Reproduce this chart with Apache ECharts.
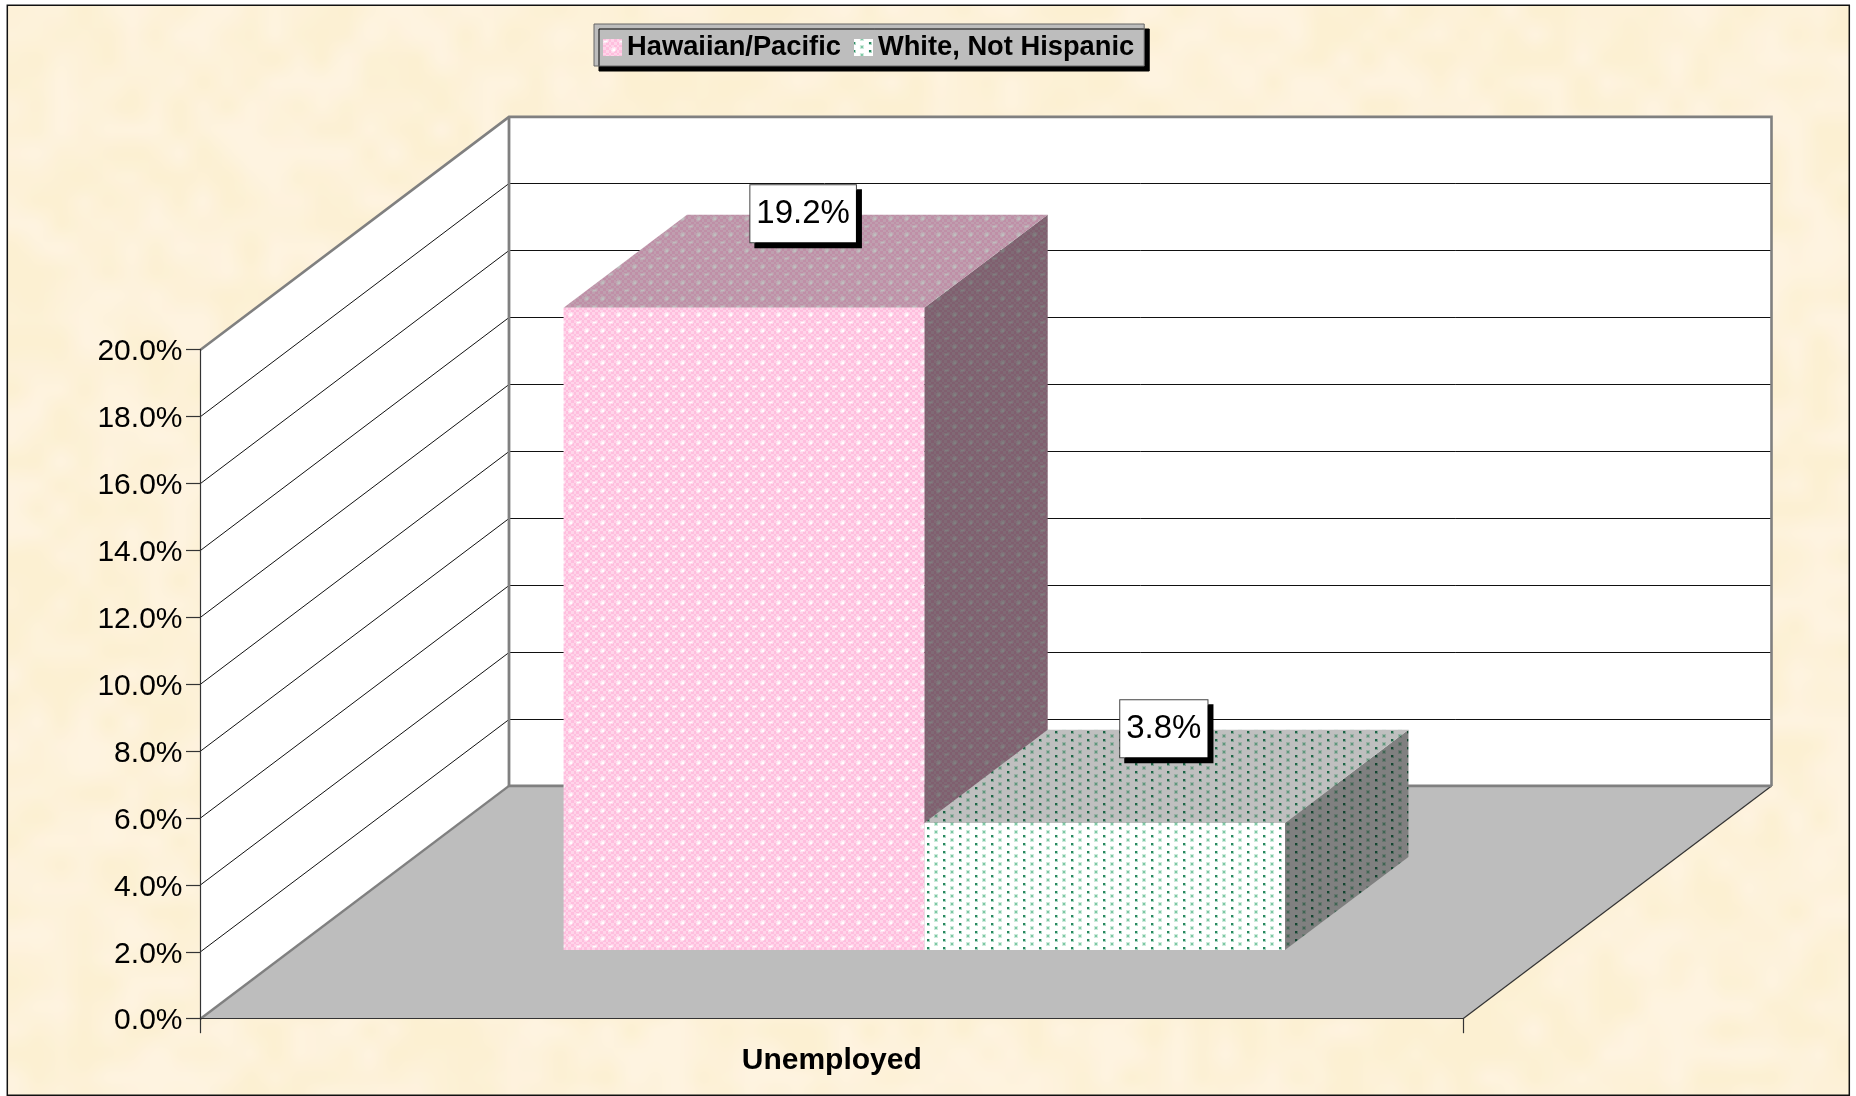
<!DOCTYPE html>
<html>
<head>
<meta charset="utf-8">
<style>html,body{margin:0;padding:0;background:#fff}#chart{width:1856px;height:1096px}</style>
<script src="https://cdn.jsdelivr.net/npm/echarts@6/dist/echarts.min.js"></script>
</head>
<body>
<div id="chart"></div>
<script>
const categories = ['Unemployed'];
const seriesNames = ['Hawaiian/Pacific', 'White, Not Hispanic'];
const hawaiianPacific = [19.2];
const whiteNotHispanic = [3.8];
const axisTicks = [0, 2, 4, 6, 8, 10, 12, 14, 16, 18, 20];

// Oblique projection of the pseudo-3D box
const DEPTH_X = 308.5, DEPTH_Y = 232.8;
const BAR_SLOTS = 3.5, DEPTH_FRONT_X = 0.3, DEPTH_FRONT_Y = 0.295, DEPTH_BAR = 0.4;

function shade(c, s, a) {
  return 'rgba(' + Math.round(c[0]*s) + ',' + Math.round(c[1]*s) + ',' + Math.round(c[2]*s) + ',' + (a === undefined ? 1 : a) + ')';
}
function tileCanvas(w, h) { const t = document.createElement('canvas'); t.width = w; t.height = h; return t; }

function pinkTile(s) {
  const t = tileCanvas(16, 16), g = t.getContext('2d');
  g.fillStyle = shade([255, 200, 228], s); g.fillRect(0, 0, 16, 16);
  const edges = [0, 3, 6, 8, 11, 14, 16];
  for (let i = 0; i < 6; i++) for (let j = 0; j < 6; j++) {
    g.fillStyle = shade((i + j) % 2 ? [255, 212, 233] : [255, 190, 222], s);
    g.fillRect(edges[i], edges[j], edges[i + 1] - edges[i], edges[j + 1] - edges[j]);
  }
  const w = [255, 255, 255];
  g.fillStyle = shade(w, s, 0.45); g.fillRect(8, 9, 5, 3); g.fillRect(9, 8, 3, 5);
  g.fillStyle = shade(w, s, 1); g.fillRect(10, 10, 2, 2);
  g.fillStyle = shade(w, s, 0.45); g.fillRect(0, 1, 5, 3);
  g.fillStyle = shade(w, s, 0.9); g.fillRect(1, 2, 3, 1);
  return t;
}
function greenTile(s) {
  const t = tileCanvas(16, 8), g = t.getContext('2d');
  g.fillStyle = shade([255, 255, 255], s); g.fillRect(0, 0, 16, 8);
  const lightDot = (x, y) => {
    g.fillStyle = shade([205, 235, 220], s); g.fillRect(x - 2, y - 2, 4, 4);
    g.fillStyle = shade([125, 200, 165], s); g.fillRect(x - 1, y - 1, 2, 2);
  };
  lightDot(8, 0); lightDot(8, 8);
  const darkDot = (x, y) => {
    g.fillStyle = shade([170, 215, 195], s); g.fillRect(x - 1, y - 1, 3, 3);
    g.fillStyle = shade([40, 135, 95], s); g.fillRect(x - 1, y - 1, 2, 2);
  };
  darkDot(0, 4); darkDot(16, 4);
  return t;
}
const patterns = [pinkTile, greenTile].map(make => ({
  face: { image: make(1), repeat: 'repeat' },
  top: { image: make(0.75), repeat: 'repeat' },
  side: { image: make(0.5), repeat: 'repeat' }
}));
function swatch(make) {
  const t = tileCanvas(19, 17), g = t.getContext('2d');
  g.fillStyle = g.createPattern(make(1), 'repeat'); g.fillRect(0, 0, 19, 17);
  return 'image://' + t.toDataURL();
}

// Parchment texture (deterministic hash, decorative only)
function parchment() {
  const W = 155, H = 92, small = tileCanvas(W, H), g = small.getContext('2d');
  const hash = (x, y) => { let n = (x * 374761 + y * 668265 + 1013) | 0; n = (n ^ (n >>> 13)) * 1274126177 | 0; return ((n ^ (n >>> 16)) >>> 0) / 4294967295; };
  const sm = t => t * t * (3 - 2 * t);
  const vn = (x, y) => {
    const xi = Math.floor(x), yi = Math.floor(y), u = sm(x - xi), v = sm(y - yi);
    const a = hash(xi, yi), b = hash(xi + 1, yi), c = hash(xi, yi + 1), d = hash(xi + 1, yi + 1);
    return (a + (b - a) * u) * (1 - v) + (c + (d - c) * u) * v;
  };
  const img = g.createImageData(W, H);
  for (let y = 0; y < H; y++) for (let x = 0; x < W; x++) {
    const n = 0.8 * vn(x / 2, y / 2) + 0.2 * vn(x / 7 + 40, y / 7 + 11);
    const t = Math.min(1, Math.max(0, (n - 0.2) / 0.6)), i = (y * W + x) * 4;
    img.data[i] = 252 + 2 * t; img.data[i + 1] = 240 + 3 * t; img.data[i + 2] = 210 + 14 * t; img.data[i + 3] = 255;
  }
  g.putImageData(img, 0, 0);
  const big = tileCanvas(1842, 1090), b = big.getContext('2d');
  b.imageSmoothingEnabled = true; b.imageSmoothingQuality = 'high';
  b.drawImage(small, 0, 0, 1842, 1090);
  return big;
}

const gridDark = '#333333', wallEdge = '#808080';

function renderWalls(params, api) {
  const tick = api.value(1);
  const f = api.coord([0, tick]);
  const band = api.size([1, 0])[0];
  const x0 = f[0] - band / 2, x1 = f[0] + band / 2, y = f[1];
  const lastTick = axisTicks[axisTicks.length - 1];
  const children = [];
  const y0 = api.coord([0, 0])[1], top = api.coord([0, lastTick])[1];
  const bx0 = x0 + DEPTH_X, bx1 = x1 + DEPTH_X, by0 = y0 - DEPTH_Y, bt = top - DEPTH_Y;
  if (params.dataIndex === 0) {
    children.push(
      { type: 'polygon', shape: { points: [[x0, y0], [x0, top], [bx0, bt], [bx0, by0]] }, style: { fill: '#fff' } },
      { type: 'rect', shape: { x: bx0, y: bt, width: bx1 - bx0, height: by0 - bt }, style: { fill: '#fff' } },
      { type: 'polygon', shape: { points: [[x0, y0], [bx0, by0], [bx1, by0], [x1, y0]] }, style: { fill: '#bdbdbd' } },
      { type: 'line', shape: { x1: x1, y1: y0, x2: bx1, y2: by0 }, style: { stroke: gridDark, lineWidth: 1.2 } }
    );
  } else if (tick !== lastTick) {
    const by = Math.floor(y - DEPTH_Y) + 0.5;
    children.push({ type: 'polyline', shape: { points: [[x0, y], [bx0, by], [bx1, by]] }, style: { fill: 'none', stroke: '#111', lineWidth: 1 } });
  } else {
    children.push(
      { type: 'polyline', shape: { points: [[x0, top], [bx0, bt], [bx1, bt], [bx1, by0]] }, style: { fill: 'none', stroke: wallEdge, lineWidth: 2.6 } },
      { type: 'line', shape: { x1: bx0, y1: bt, x2: bx0, y2: by0 }, style: { stroke: wallEdge, lineWidth: 2.8 } },
      { type: 'line', shape: { x1: x0, y1: y0, x2: bx0, y2: by0 }, style: { stroke: wallEdge, lineWidth: 2.4 } },
      { type: 'line', shape: { x1: bx0, y1: by0, x2: bx1, y2: by0 }, style: { stroke: wallEdge, lineWidth: 2.6 } }
    );
  }
  return { type: 'group', children: children };
}

function renderBar(seriesIdx) {
  return function (params, api) {
    const cat = api.value(0), val = api.value(1);
    const base = api.coord([cat, 0]), head = api.coord([cat, val]);
    const band = api.size([1, 0])[0];
    const barW = band / BAR_SLOTS;
    const dxF = DEPTH_X * DEPTH_FRONT_X, dyF = DEPTH_Y * DEPTH_FRONT_Y;
    const dxB = DEPTH_X * DEPTH_BAR, dyB = DEPTH_Y * DEPTH_BAR;
    const xL = base[0] - barW + seriesIdx * barW + dxF, xR = xL + barW;
    const yB = base[1] - dyF, yT = head[1] - dyF;
    const p = patterns[seriesIdx];
    return {
      type: 'group',
      children: [
        { type: 'polygon', shape: { points: [[xR, yB], [xR, yT], [xR + dxB, yT - dyB], [xR + dxB, yB - dyB]] }, style: { fill: p.side } },
        { type: 'polygon', shape: { points: [[xL, yT], [xL + dxB, yT - dyB], [xR + dxB, yT - dyB], [xR, yT]] }, style: { fill: p.top } },
        { type: 'rect', shape: { x: xL, y: yT, width: barW, height: yB - yT }, style: { fill: p.face } },
        {
          type: 'text', x: xL + (barW + dxB) / 2 - 2.5, y: yT - dyB / 2 - 47.5, z2: 50,
          style: {
            text: val.toFixed(1) + '%', fill: '#000', fontFamily: 'Liberation Sans', fontSize: 33,
            align: 'center', verticalAlign: 'middle', lineHeight: 37,
            backgroundColor: '#fff', borderColor: '#444', borderWidth: 1, padding: [10, 6],
            shadowColor: '#000', shadowOffsetX: 5, shadowOffsetY: 5, shadowBlur: 0
          }
        }
      ]
    };
  };
}

const chart = echarts.init(document.getElementById('chart'), null, { renderer: 'canvas' });
chart.setOption({
  animation: false,
  backgroundColor: '#fff',
  textStyle: { fontFamily: 'Liberation Sans' },
  graphic: [
    { type: 'image', z: -10, silent: true, x: 7.3, y: 5.3, style: { image: parchment(), x: 0, y: 0, width: 1842, height: 1090 } },
    { type: 'rect', z: -9, silent: true, x: 7.3, y: 5.3, shape: { x: 0, y: 0, width: 1842, height: 1090 }, style: { fill: 'none', stroke: '#111', lineWidth: 1.5 } }
  ],
  legend: {
    left: 594, top: 24, orient: 'horizontal', selectedMode: false,
    data: [
      { name: seriesNames[0], icon: swatch(pinkTile) },
      { name: seriesNames[1], icon: swatch(greenTile) }
    ],
    itemWidth: 19, itemHeight: 17, itemGap: 13, symbolKeepAspect: false,
    padding: [10, 10, 5, 9],
    backgroundColor: '#bdbdbd', borderColor: '#666', borderWidth: 1,
    shadowColor: '#000', shadowOffsetX: 5, shadowOffsetY: 5, shadowBlur: 0,
    textStyle: { fontFamily: 'Liberation Sans', fontWeight: 'bold', fontSize: 27.3, color: '#000', padding: [3, 0, 0, 0] }
  },
  grid: { left: 200.5, top: 349.7, width: 1262.5, height: 669 },
  xAxis: {
    type: 'category', data: categories, z: 5,
    axisLine: { lineStyle: { color: gridDark, width: 1.2 } },
    axisTick: { show: true, length: 14.5, alignWithLabel: false, lineStyle: { color: gridDark, width: 1.2 } },
    axisLabel: { margin: 27, color: '#000', fontFamily: 'Liberation Sans', fontWeight: 'bold', fontSize: 30, interval: 0 }
  },
  yAxis: {
    type: 'value', min: 0, max: 20, interval: 2, z: 5,
    axisLine: { show: true, lineStyle: { color: gridDark, width: 1.2 } },
    axisTick: { show: true, length: 14.5, lineStyle: { color: gridDark, width: 1.2 } },
    splitLine: { show: false },
    axisLabel: {
      margin: 18, color: '#000', formatter: v => '{t|' + v.toFixed(1) + '%}',
      rich: { t: { fontFamily: 'Liberation Sans', fontSize: 30, color: '#000', padding: [5, 0, 0, 0] } }
    }
  },
  series: [
    { type: 'custom', name: '_walls', z: 1, silent: true, renderItem: renderWalls, data: axisTicks.map(t => [0, t]), encode: { x: 0, y: 1 } },
    { type: 'custom', name: seriesNames[0], z: 2, silent: true, renderItem: renderBar(0), data: hawaiianPacific.map((v, i) => [i, v]), encode: { x: 0, y: 1 } },
    { type: 'custom', name: seriesNames[1], z: 3, silent: true, renderItem: renderBar(1), data: whiteNotHispanic.map((v, i) => [i, v]), encode: { x: 0, y: 1 } }
  ]
});
</script>
</body>
</html>
